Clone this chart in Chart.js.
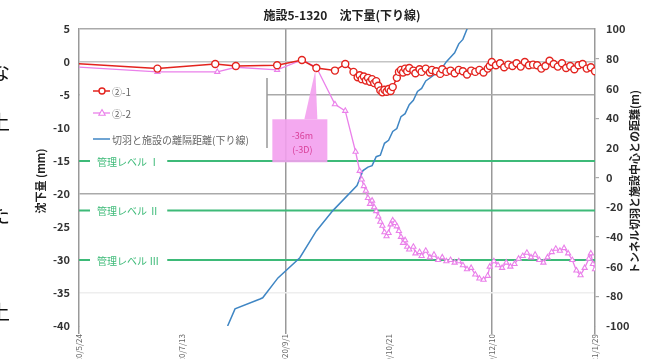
<!DOCTYPE html>
<html>
<head>
<meta charset="utf-8">
<script src="https://cdn.jsdelivr.net/npm/chart.js@4"></script>
<style>
html,body{margin:0;padding:0;background:#fff;overflow:hidden}
#wrap{position:relative;width:649px;height:359px;overflow:hidden}
canvas{position:absolute;left:0;top:0}
.edge{position:absolute;left:-10px;font:20px "Noto Sans CJK JP";color:#111;line-height:1}
</style>
</head>
<body>
<div id="wrap">
<canvas id="c" width="649" height="359"></canvas>
<span class="edge" style="top:62px">な</span>
<span class="edge" style="top:112px">上</span>
<span class="edge" style="top:205px">た</span>
<span class="edge" style="top:302px">上</span>
</div>
<script>
// Days counted from 2020/5/24
const tickDays = [0, 50, 100, 150, 200, 250];
const tickLabels = ['2020/5/24', '2020/7/13', '2020/9/1', '2020/10/21', '2020/12/10', '2021/1/29'];
const gridDays = [100, 200];

// ②-1 settlement (mm)
const s1Days = [-4, 38, 66, 76, 96, 108, 115, 124, 129, 133,
  135, 136, 137, 138, 139, 140, 141, 142, 143, 144, 145, 146, 147, 148, 149, 150, 151, 152, 154, 155,
  156, 157, 158, 159, 160, 162, 163, 165, 166, 168, 170, 171, 173, 175, 176, 178, 180, 182, 184, 186,
  188, 190, 192, 194, 196, 198, 199, 200, 202, 204, 206, 208, 210, 212, 214, 216, 218, 220, 222, 224,
  226, 228, 230, 232, 234, 236, 238, 240, 242, 244, 246, 248, 250];
const s1Values = [-0.2, -1.0, -0.3, -0.6, -0.5, 0.3, -0.9, -1.3, -0.3, -1.5,
  -2.3, -2.0, -2.6, -2.2, -2.8, -2.4, -3.0, -2.6, -3.2, -2.9, -3.6, -4.3, -4.6, -4.2, -4.5, -4.1, -4.4, -3.8, -2.4, -1.5,
  -1.2, -1.6, -1.0, -1.4, -0.9, -1.3, -1.7, -1.1, -1.5, -1.0, -1.6, -1.2, -1.4, -1.8, -1.1, -1.5, -1.3, -1.7, -1.2, -1.4,
  -1.9, -1.3, -1.5, -1.2, -1.6, -1.0, -0.6, 0.0, -0.5, -0.2, -0.8, -0.4, -0.6, -0.2, -0.7, 0.0, -0.5, -0.4, -0.5, -1.0,
  -0.6, 0.2, -0.3, -0.7, -0.2, -0.9, -0.6, -1.1, -0.5, -0.3, -1.0, -0.8, -1.4];

// ②-2 settlement (mm)
const s2Days = [-4, 38, 67, 76, 96, 108, 115, 124, 129, 134,
  136, 137, 138, 139, 140, 141, 142, 143, 144, 145, 146, 147, 148, 149, 150, 151, 152, 153, 154, 155,
  156, 157, 158, 159, 160, 162, 163, 165, 166, 168, 170, 172, 174, 176, 178, 180, 182, 184, 186, 188,
  190, 192, 194, 196, 198, 199, 201, 203, 205, 207, 209, 211, 213, 215, 217, 219, 221, 223, 225, 227,
  229, 231, 233, 235, 237, 239, 241, 243, 245, 247, 248, 249, 250];
const s2Values = [-0.7, -1.5, -1.5, -0.8, -1.2, 0.3, -0.8, -6.4, -7.4, -13.6,
  -16.5, -17.8, -18.8, -19.5, -20.6, -21.5, -21.0, -22.0, -22.6, -23.4, -24.2, -24.8, -25.8, -26.4, -25.9, -24.6, -24.0, -24.4, -24.9, -25.6,
  -26.5, -27.4, -27.0, -28.0, -28.4, -28.0, -29.0, -28.8, -29.4, -28.6, -29.6, -29.2, -30.0, -29.6, -30.2, -30.0, -30.4, -30.2, -30.8, -31.4,
  -31.2, -32.2, -32.8, -33.0, -32.4, -31.0, -30.2, -30.8, -31.2, -30.4, -31.0, -30.6, -29.8, -29.4, -28.9, -29.6, -29.2, -30.0, -30.4, -29.6,
  -28.8, -28.3, -28.6, -28.2, -29.0, -30.0, -31.6, -32.3, -31.2, -29.8, -29.0, -30.6, -31.4];

// Distance between face and facility, down line (m)
const distDays = [72, 75.6, 87.7, 89, 96.4, 107, 115, 123, 134.7, 137.6,
  140, 142, 144, 146, 148, 150, 152, 154, 156, 158, 160, 162, 164, 166, 168, 170, 172, 174, 176, 178,
  180, 182, 184, 186, 188, 190];
const distValues = [-100, -88.5, -81.8, -81, -67.6, -54, -36, -22.3, -5.4, 4.7,
  7, 8, 14, 15, 23, 25, 31, 33, 41, 43, 49, 52, 58, 60, 65, 67, 69, 72, 74, 78,
  81, 84, 90, 93, 100, 105];

// Management levels (mm)
const levelValues = [-15, -22.5, -30];
const levelLabels = ['管理レベル Ⅰ', '管理レベル Ⅱ', '管理レベル Ⅲ'];

// Callout at the face-passing point
const noteDay = 115;
const noteValue = -0.8;
const noteLines = ['-36m', '(-3D)'];

const FONT = '"Noto Sans CJK JP", "Noto Sans", sans-serif';
const toXY = (xs, ys) => xs.map((d, i) => ({ x: d, y: ys[i] }));

const decor = {
  id: 'decor',
  beforeDatasetsDraw(chart) {
    const { ctx, chartArea: a, scales: { y } } = chart;
    ctx.save();
    // legend panel
    ctx.fillStyle = '#fff';
    ctx.fillRect(a.left + 1, 78, 267 - a.left - 1, 70);
    ctx.strokeStyle = '#999';
    ctx.lineWidth = 1.5;
    ctx.beginPath(); ctx.moveTo(267, 78); ctx.lineTo(267, 148); ctx.stroke();

    // management level lines
    ctx.font = '10px ' + FONT;
    ctx.textBaseline = 'middle';
    levelValues.forEach((v, i) => {
      const py = y.getPixelForValue(v);
      const tx = a.left + 18;
      const w = ctx.measureText(levelLabels[i]).width;
      ctx.strokeStyle = '#3dba78';
      ctx.lineWidth = 2;
      ctx.beginPath();
      ctx.moveTo(a.left, py); ctx.lineTo(tx - 7, py);
      ctx.moveTo(tx + w + 8, py); ctx.lineTo(a.right, py);
      ctx.stroke();
      ctx.fillStyle = '#3dba78';
      ctx.fillText(levelLabels[i], tx, py + 1);
    });

    // legend entries
    const rows = [91, 113, 139];
    chart.data.datasets.forEach((ds, i) => {
      const ry = rows[i];
      ctx.strokeStyle = ds.borderColor;
      ctx.lineWidth = ds.borderWidth;
      ctx.beginPath(); ctx.moveTo(93, ry); ctx.lineTo(110, ry); ctx.stroke();
      if (ds.pointRadius > 0) {
        ctx.fillStyle = '#fff';
        ctx.lineWidth = ds.pointBorderWidth;
        ctx.beginPath();
        if (ds.pointStyle === 'circle') {
          ctx.arc(102, ry, 3, 0, Math.PI * 2);
        } else {
          ctx.moveTo(102, ry - 3.5); ctx.lineTo(105.2, ry + 2.2); ctx.lineTo(98.8, ry + 2.2); ctx.closePath();
        }
        ctx.fill(); ctx.stroke();
      }
      ctx.fillStyle = '#666';
      ctx.font = '10px ' + FONT;
      ctx.fillText(ds.label, 112, ry + 1);
    });
    ctx.restore();
  },
  afterDatasetsDraw(chart) {
    const { ctx, scales: { x, y } } = chart;
    const ax = x.getPixelForValue(noteDay);
    const ay = y.getPixelForValue(noteValue);
    const bl = ax - 44, bt = ay + 52, bw = 55, bh = 43;
    ctx.save();
    ctx.fillStyle = 'rgba(243,160,238,0.9)';
    ctx.beginPath();
    ctx.moveTo(ax - 12, bt); ctx.lineTo(ax - 1, ay + 3); ctx.lineTo(ax + 1, bt);
    ctx.closePath(); ctx.fill();
    ctx.fillRect(bl, bt, bw, bh);
    ctx.fillStyle = '#d9409a';
    ctx.font = '9px ' + FONT;
    ctx.textAlign = 'center';
    ctx.textBaseline = 'middle';
    ctx.fillText(noteLines[0], bl + 30, bt + 16);
    ctx.fillText(noteLines[1], bl + 30, bt + 30);
    ctx.restore();
  },
  afterDraw(chart) {
    const { ctx } = chart;
    ctx.save();
    ctx.fillStyle = '#222';
    ctx.textAlign = 'center';
    ctx.textBaseline = 'middle';
    ctx.font = 'bold 12px ' + FONT;
    ctx.fillText('施設5-1320　沈下量(下り線)', 342, 15);
    ctx.font = 'bold 11px ' + FONT;
    ctx.translate(41, 181); ctx.rotate(-Math.PI / 2);
    ctx.fillText('沈下量 (mm)', 0, 0);
    ctx.restore();
    ctx.save();
    ctx.fillStyle = '#222';
    ctx.textAlign = 'center';
    ctx.textBaseline = 'middle';
    ctx.font = 'bold 11px ' + FONT;
    ctx.translate(635, 182); ctx.rotate(-Math.PI / 2);
    ctx.fillText('トンネル切羽と施設中心との距離(m)', 0, 0);
    ctx.restore();
  }
};

const yGridColors = { 5: '#aaa', 0: '#c4c4c4', '-5': '#aaa', '-20': '#aaa', '-35': '#eee' };

new Chart(document.getElementById('c'), {
  type: 'line',
  data: {
    datasets: [
      {
        label: '②-1', data: toXY(s1Days, s1Values), yAxisID: 'y',
        borderColor: '#e3231e', borderWidth: 1.5, pointStyle: 'circle', pointRadius: 3.5,
        pointBorderWidth: 1.4, pointBackgroundColor: '#fff', pointBorderColor: '#e3231e'
      },
      {
        label: '②-2', data: toXY(s2Days, s2Values), yAxisID: 'y',
        borderColor: '#ea80ea', borderWidth: 1.3, pointStyle: 'triangle', pointRadius: 3,
        pointBorderWidth: 1.1, pointBackgroundColor: '#fff', pointBorderColor: '#ea80ea'
      },
      {
        label: '切羽と施設の離隔距離(下り線)', data: toXY(distDays, distValues), yAxisID: 'y1',
        borderColor: '#3f86c4', borderWidth: 1.5, pointRadius: 0
      }
    ]
  },
  options: {
    responsive: false,
    animation: false,
    devicePixelRatio: 1,
    layout: { padding: { top: 29, left: 0, right: 0, bottom: 0 } },
    plugins: { legend: { display: false }, title: { display: false }, tooltip: { enabled: false } },
    elements: { line: { tension: 0 } },
    scales: {
      x: {
        type: 'linear', min: 0, max: 250,
        afterBuildTicks(s) { s.ticks = tickDays.map(v => ({ value: v })); },
        afterFit(s) { s.height = 33; },
        ticks: {
          autoSkip: false, minRotation: 90, maxRotation: 90, padding: 0,
          color: '#666', font: { family: FONT, size: 8 },
          callback: v => tickLabels[tickDays.indexOf(v)]
        },
        grid: {
          lineWidth: 1.5, tickLength: 8,
          color: c => gridDays.includes(c.tick && c.tick.value) ? '#999' : 'rgba(0,0,0,0)',
          tickColor: c => (gridDays.includes(c.tick && c.tick.value) || c.tick.value === 0 || c.tick.value === 250) ? '#999' : 'rgba(0,0,0,0)'
        },
        border: { display: false }
      },
      y: {
        position: 'left', min: -40, max: 5,
        afterFit(s) { s.width = 79; },
        ticks: { stepSize: 5, padding: 9, color: '#333', font: { family: FONT, size: 11, weight: 'bold' } },
        grid: {
          drawTicks: false, lineWidth: 1.5,
          color: c => yGridColors[String(c.tick && c.tick.value)] || 'rgba(0,0,0,0)'
        },
        border: { display: true, color: '#999', width: 1.5 }
      },
      y1: {
        position: 'right', min: -100, max: 100,
        afterFit(s) { s.width = 54; },
        ticks: { stepSize: 20, padding: 7, color: '#333', font: { family: FONT, size: 11, weight: 'bold' } },
        grid: {
          drawOnChartArea: false, tickLength: 4, lineWidth: 1.2,
          tickColor: c => (c.tick && c.tick.value % 40 === 0) ? '#aaa' : 'rgba(0,0,0,0)'
        },
        border: { display: true, color: '#999', width: 1.5 }
      }
    }
  },
  plugins: [decor]
});
</script>
</body>
</html>
